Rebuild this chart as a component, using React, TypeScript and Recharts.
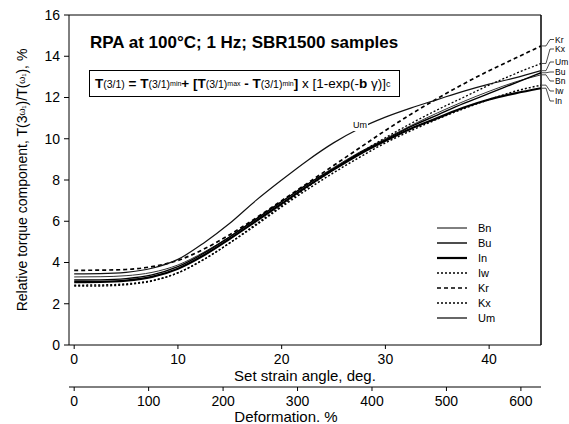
import React from "react";
import {
  LineChart,
  Line,
  XAxis,
  YAxis,
  ReferenceLine,
} from "recharts";

// set strain angle, deg.
const angles = [0, 2.5, 5, 7.5, 10, 12.5, 15, 17.5, 20, 22.5, 25, 27.5, 30, 32.5, 35, 37.5, 40, 42.5, 45];

const bn = [3.3, 3.31, 3.36, 3.52, 3.88, 4.5, 5.25, 6.1, 6.95, 7.8, 8.6, 9.35, 10.0, 10.65, 11.25, 11.8, 12.3, 12.75, 13.1];
const bu = [3.15, 3.16, 3.22, 3.4, 3.8, 4.45, 5.25, 6.1, 6.95, 7.8, 8.55, 9.3, 9.95, 10.6, 11.15, 11.7, 12.2, 12.7, 13.2];
const inn = [3.05, 3.06, 3.12, 3.3, 3.7, 4.35, 5.15, 6.0, 6.85, 7.7, 8.5, 9.25, 9.9, 10.5, 11.0, 11.5, 11.9, 12.2, 12.45];
const iw = [2.9, 2.91, 2.96, 3.12, 3.5, 4.15, 4.95, 5.8, 6.7, 7.55, 8.35, 9.1, 9.8, 10.4, 10.95, 11.45, 11.9, 12.3, 12.6];
const kr = [3.62, 3.63, 3.66, 3.8, 4.1, 4.65, 5.35, 6.15, 7.0, 7.85, 8.7, 9.55, 10.4, 11.2, 11.95, 12.65, 13.3, 13.9, 14.5];
const kx = [2.85, 2.86, 2.92, 3.1, 3.5, 4.15, 4.95, 5.85, 6.75, 7.65, 8.5, 9.3, 10.05, 10.75, 11.4, 12.0, 12.6, 13.15, 13.65];
const um = [3.45, 3.46, 3.52, 3.72, 4.15, 4.95, 5.9, 7.0, 8.0, 8.95, 9.8, 10.5, 11.05, 11.5, 11.9, 12.3, 12.65, 12.95, 13.3];

const yTicks = [0, 2, 4, 6, 8, 10, 12, 14, 16];
const angleTicks = [0, 10, 20, 30, 40];
const deformTicks = [0, 100, 200, 300, 400, 500, 600];
// 45 deg of set strain angle corresponds to ~627 % deformation on the lower scale
const DEFORM_AT_45 = 627;

const data = angles.map((a, i) => ({
  angle: a,
  Bn: bn[i],
  Bu: bu[i],
  In: inn[i],
  Iw: iw[i],
  Kr: kr[i],
  Kx: kx[i],
  Um: um[i],
}));

const series = [
  { key: "Bn", width: 1, dash: undefined, color: "#333" },
  { key: "Bu", width: 1.4, dash: undefined, color: "#000" },
  { key: "In", width: 2.2, dash: undefined, color: "#000" },
  { key: "Iw", width: 1.5, dash: "2 2", color: "#000" },
  { key: "Kr", width: 1.7, dash: "4 3", color: "#000" },
  { key: "Kx", width: 1.3, dash: "2 2", color: "#000" },
  { key: "Um", width: 1.2, dash: undefined, color: "#111" },
];

// right-hand end labels (label y in px)
const endLabels = [
  { key: "Kr", y: 39.5, v: kr[kr.length - 1] },
  { key: "Kx", y: 49, v: kx[kx.length - 1] },
  { key: "Um", y: 62, v: um[um.length - 1] },
  { key: "Bu", y: 72, v: bu[bu.length - 1] },
  { key: "Bn", y: 81, v: bn[bn.length - 1] },
  { key: "Iw", y: 91, v: iw[iw.length - 1] },
  { key: "In", y: 101, v: inn[inn.length - 1] },
];

const FONT = "'Liberation Sans', Arial, sans-serif";
const PLOT_TOP = 15;
const PLOT_H = 330;
const yPix = (v: number) => PLOT_TOP + ((16 - v) * PLOT_H) / 16;

const YLabel = (props: any) => {
  const vb = props.viewBox || {};
  const cy = (vb.y || 15) + (vb.height || 330) / 2;
  return (
    <text
      x={22}
      y={cy}
      transform={`rotate(-90, 22, ${cy})`}
      textAnchor="middle"
      dominantBaseline="central"
      fontFamily={FONT}
      fontSize={14}
      fill="#000"
    >
      Relative torque component, T(3
      <tspan fontSize={9}>ω₁</tspan>
      )/T(
      <tspan fontSize={9}>ω₁</tspan>
      ), %
    </text>
  );
};

const sub = { fontSize: 7, verticalAlign: "-3px" } as const;
const small = { fontSize: 10.5 } as const;

const App = () => {
  return (
    <div style={{ position: "absolute", left: 0, top: 0, width: 569, height: 424, background: "#fff" }}>
      <LineChart
        width={569}
        height={424}
        data={data}
        margin={{ top: 15, right: 28, bottom: 0, left: 0 }}
      >
        <XAxis
          xAxisId="angle"
          dataKey="angle"
          type="number"
          domain={[-0.5, 45]}
          ticks={angleTicks}
          interval={0}
          allowDataOverflow
          height={42}
          stroke="#000"
          tickSize={4}
          tickMargin={5}
          tick={{ fill: "#000", fontSize: 14, fontFamily: FONT }}
          label={{
            value: "Set strain angle, deg.",
            position: "insideBottom",
            offset: 6,
            fill: "#000",
            fontSize: 15,
            fontFamily: FONT,
          }}
        />
        <XAxis
          xAxisId="def"
          dataKey="angle"
          type="number"
          domain={[-0.5, 45]}
          ticks={deformTicks.map((d) => (d * 45) / DEFORM_AT_45)}
          tickFormatter={(v: number) => String(Math.round((v * DEFORM_AT_45) / 45))}
          interval={0}
          allowDataOverflow
          height={37}
          stroke="#000"
          tickSize={4}
          tickMargin={5}
          tick={{ fill: "#000", fontSize: 14, fontFamily: FONT }}
          label={{
            value: "Deformation. %",
            position: "insideBottom",
            offset: 2,
            dx: -19,
            fill: "#000",
            fontSize: 15,
            fontFamily: FONT,
          }}
        />
        <YAxis
          domain={[0, 16]}
          ticks={yTicks}
          interval={0}
          width={69}
          stroke="#000"
          tickSize={5}
          tickMargin={4}
          tick={{ fill: "#000", fontSize: 14, fontFamily: FONT }}
          label={<YLabel />}
        />
        <ReferenceLine xAxisId="angle" y={16} stroke="#000" strokeWidth={1} />
        <ReferenceLine xAxisId="angle" x={45} stroke="#000" strokeWidth={1.5} />
        {series.map((s) => (
          <Line
            key={s.key}
            xAxisId="angle"
            type="monotone"
            dataKey={s.key}
            stroke={s.color}
            strokeWidth={s.width}
            strokeDasharray={s.dash}
            dot={false}
            isAnimationActive={false}
          />
        ))}
      </LineChart>

      {/* legend */}
      <div style={{ position: "absolute", left: 436, top: 220, fontFamily: FONT, fontSize: 11 }}>
        {series.map((s) => (
          <div key={s.key} style={{ display: "flex", alignItems: "center", height: 15 }}>
            <svg width={32} height={6}>
              <line
                x1={1}
                y1={3}
                x2={31}
                y2={3}
                stroke="#000"
                strokeWidth={s.width}
                strokeDasharray={s.dash}
              />
            </svg>
            <span style={{ marginLeft: 10 }}>{s.key}</span>
          </div>
        ))}
      </div>

      {/* title */}
      <div
        style={{
          position: "absolute",
          left: 90,
          top: 33,
          fontFamily: FONT,
          fontWeight: "bold",
          fontSize: 17,
          whiteSpace: "nowrap",
          lineHeight: "20px",
        }}
      >
        RPA at 100°C; 1 Hz; SBR1500 samples
      </div>

      {/* formula box */}
      <div
        style={{
          position: "absolute",
          left: 89,
          top: 70,
          width: 311,
          height: 27,
          border: "1px solid #000",
          boxSizing: "border-box",
          fontFamily: FONT,
          fontSize: 13.5,
          display: "flex",
          alignItems: "center",
          paddingLeft: 5,
          whiteSpace: "pre",
          lineHeight: "16px",
        }}
      >
        <b>T</b>
        <span style={small}>(3/1)</span>
        <b> = T</b>
        <span style={small}>(3/1)</span>
        <span style={sub}>min</span>
        <b>+ [T</b>
        <span style={small}>(3/1)</span>
        <span style={sub}>max</span>
        <b> - T</b>
        <span style={small}>(3/1)</span>
        <span style={sub}>min</span>
        <b>]</b>
        <span> x [1-exp(-</span>
        <b>b</b>
        <span> γ)]</span>
        <span style={{ fontSize: 9, verticalAlign: "5px" }}>c</span>
      </div>

      {/* label on the Um curve */}
      <div
        style={{
          position: "absolute",
          left: 352,
          top: 120,
          fontFamily: FONT,
          fontSize: 9,
          background: "#fff",
          padding: "0 1px",
          lineHeight: "11px",
        }}
      >
        Um
      </div>

      {/* right-hand end labels */}
      <svg style={{ position: "absolute", left: 0, top: 0 }} width={569} height={424}>
        {endLabels.map((l) => (
          <g key={l.key}>
            <path
              d={`M542,${yPix(l.v)} L546,${yPix(l.v)} L550,${l.y} L554,${l.y}`}
              fill="none"
              stroke="#000"
              strokeWidth={0.7}
            />
            <text
              x={555}
              y={l.y}
              dominantBaseline="central"
              fontFamily={FONT}
              fontSize={8.5}
              fill="#000"
            >
              {l.key}
            </text>
          </g>
        ))}
      </svg>
    </div>
  );
};

export default App;
